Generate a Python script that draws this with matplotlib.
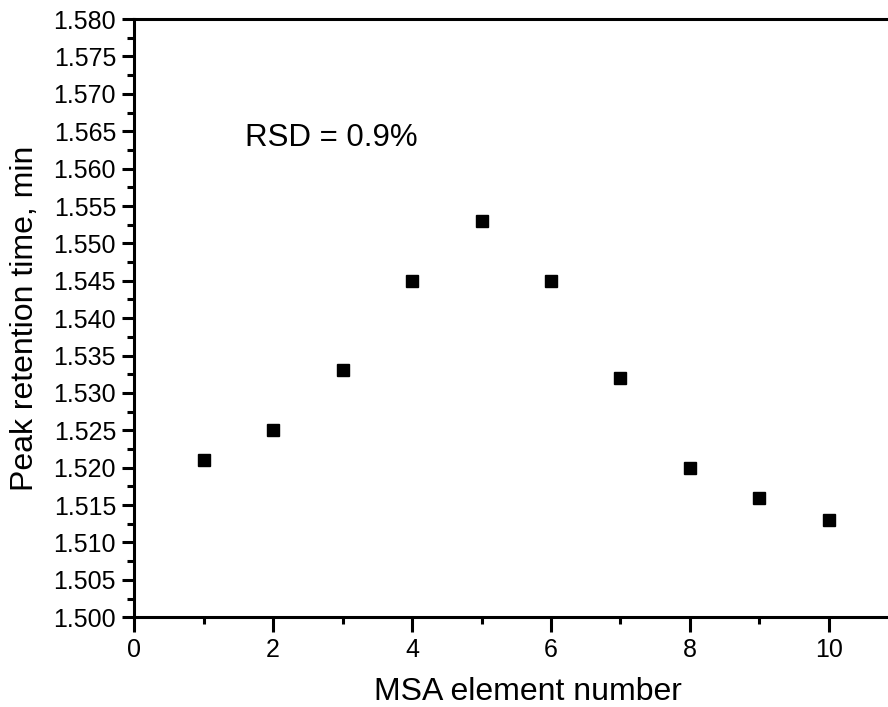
import numpy as np
import matplotlib.pyplot as plt
from matplotlib.ticker import MultipleLocator, FormatStrFormatter

plt.rcParams['font.family'] = ['Liberation Sans', 'DejaVu Sans']

# MSA element number vs peak retention time
element = [1, 2, 3, 4, 5, 6, 7, 8, 9, 10]
retention = [1.521, 1.525, 1.533, 1.545, 1.553, 1.545, 1.532, 1.520, 1.516, 1.513]

fig = plt.figure(figsize=(8.88, 7.07), dpi=100)
ax = fig.add_axes([0.151, 0.127, 0.849, 0.846])

ax.plot(element, retention, linestyle='none', marker='s', markersize=9.3,
        color='black')

ax.set_xlim(0, 10.85)
ax.set_ylim(1.500, 1.580)

ax.xaxis.set_major_locator(MultipleLocator(2))
ax.xaxis.set_minor_locator(MultipleLocator(1))
ax.yaxis.set_major_locator(MultipleLocator(0.005))
ax.yaxis.set_minor_locator(MultipleLocator(0.0025))
ax.yaxis.set_major_formatter(FormatStrFormatter('%.3f'))

# plot area runs past the right edge, so no right spine
ax.spines['right'].set_visible(False)
for s in ['left', 'bottom', 'top']:
    ax.spines[s].set_linewidth(2.2)

ax.tick_params(which='major', direction='out', length=9, width=2.2, labelsize=18, pad=4)
ax.tick_params(which='minor', direction='out', length=5, width=2.2)
ax.tick_params(axis='x', which='major', length=11, pad=4)

ax.set_xlabel('MSA element number', fontsize=23, labelpad=11)
ax.xaxis.label.set_x(0.522)
ax.set_ylabel('Peak retention time, min', fontsize=23, labelpad=10)

ax.text(1.6, 1.563, 'RSD = 0.9%', fontsize=22.5)

fig.savefig('out.png', dpi=100)
